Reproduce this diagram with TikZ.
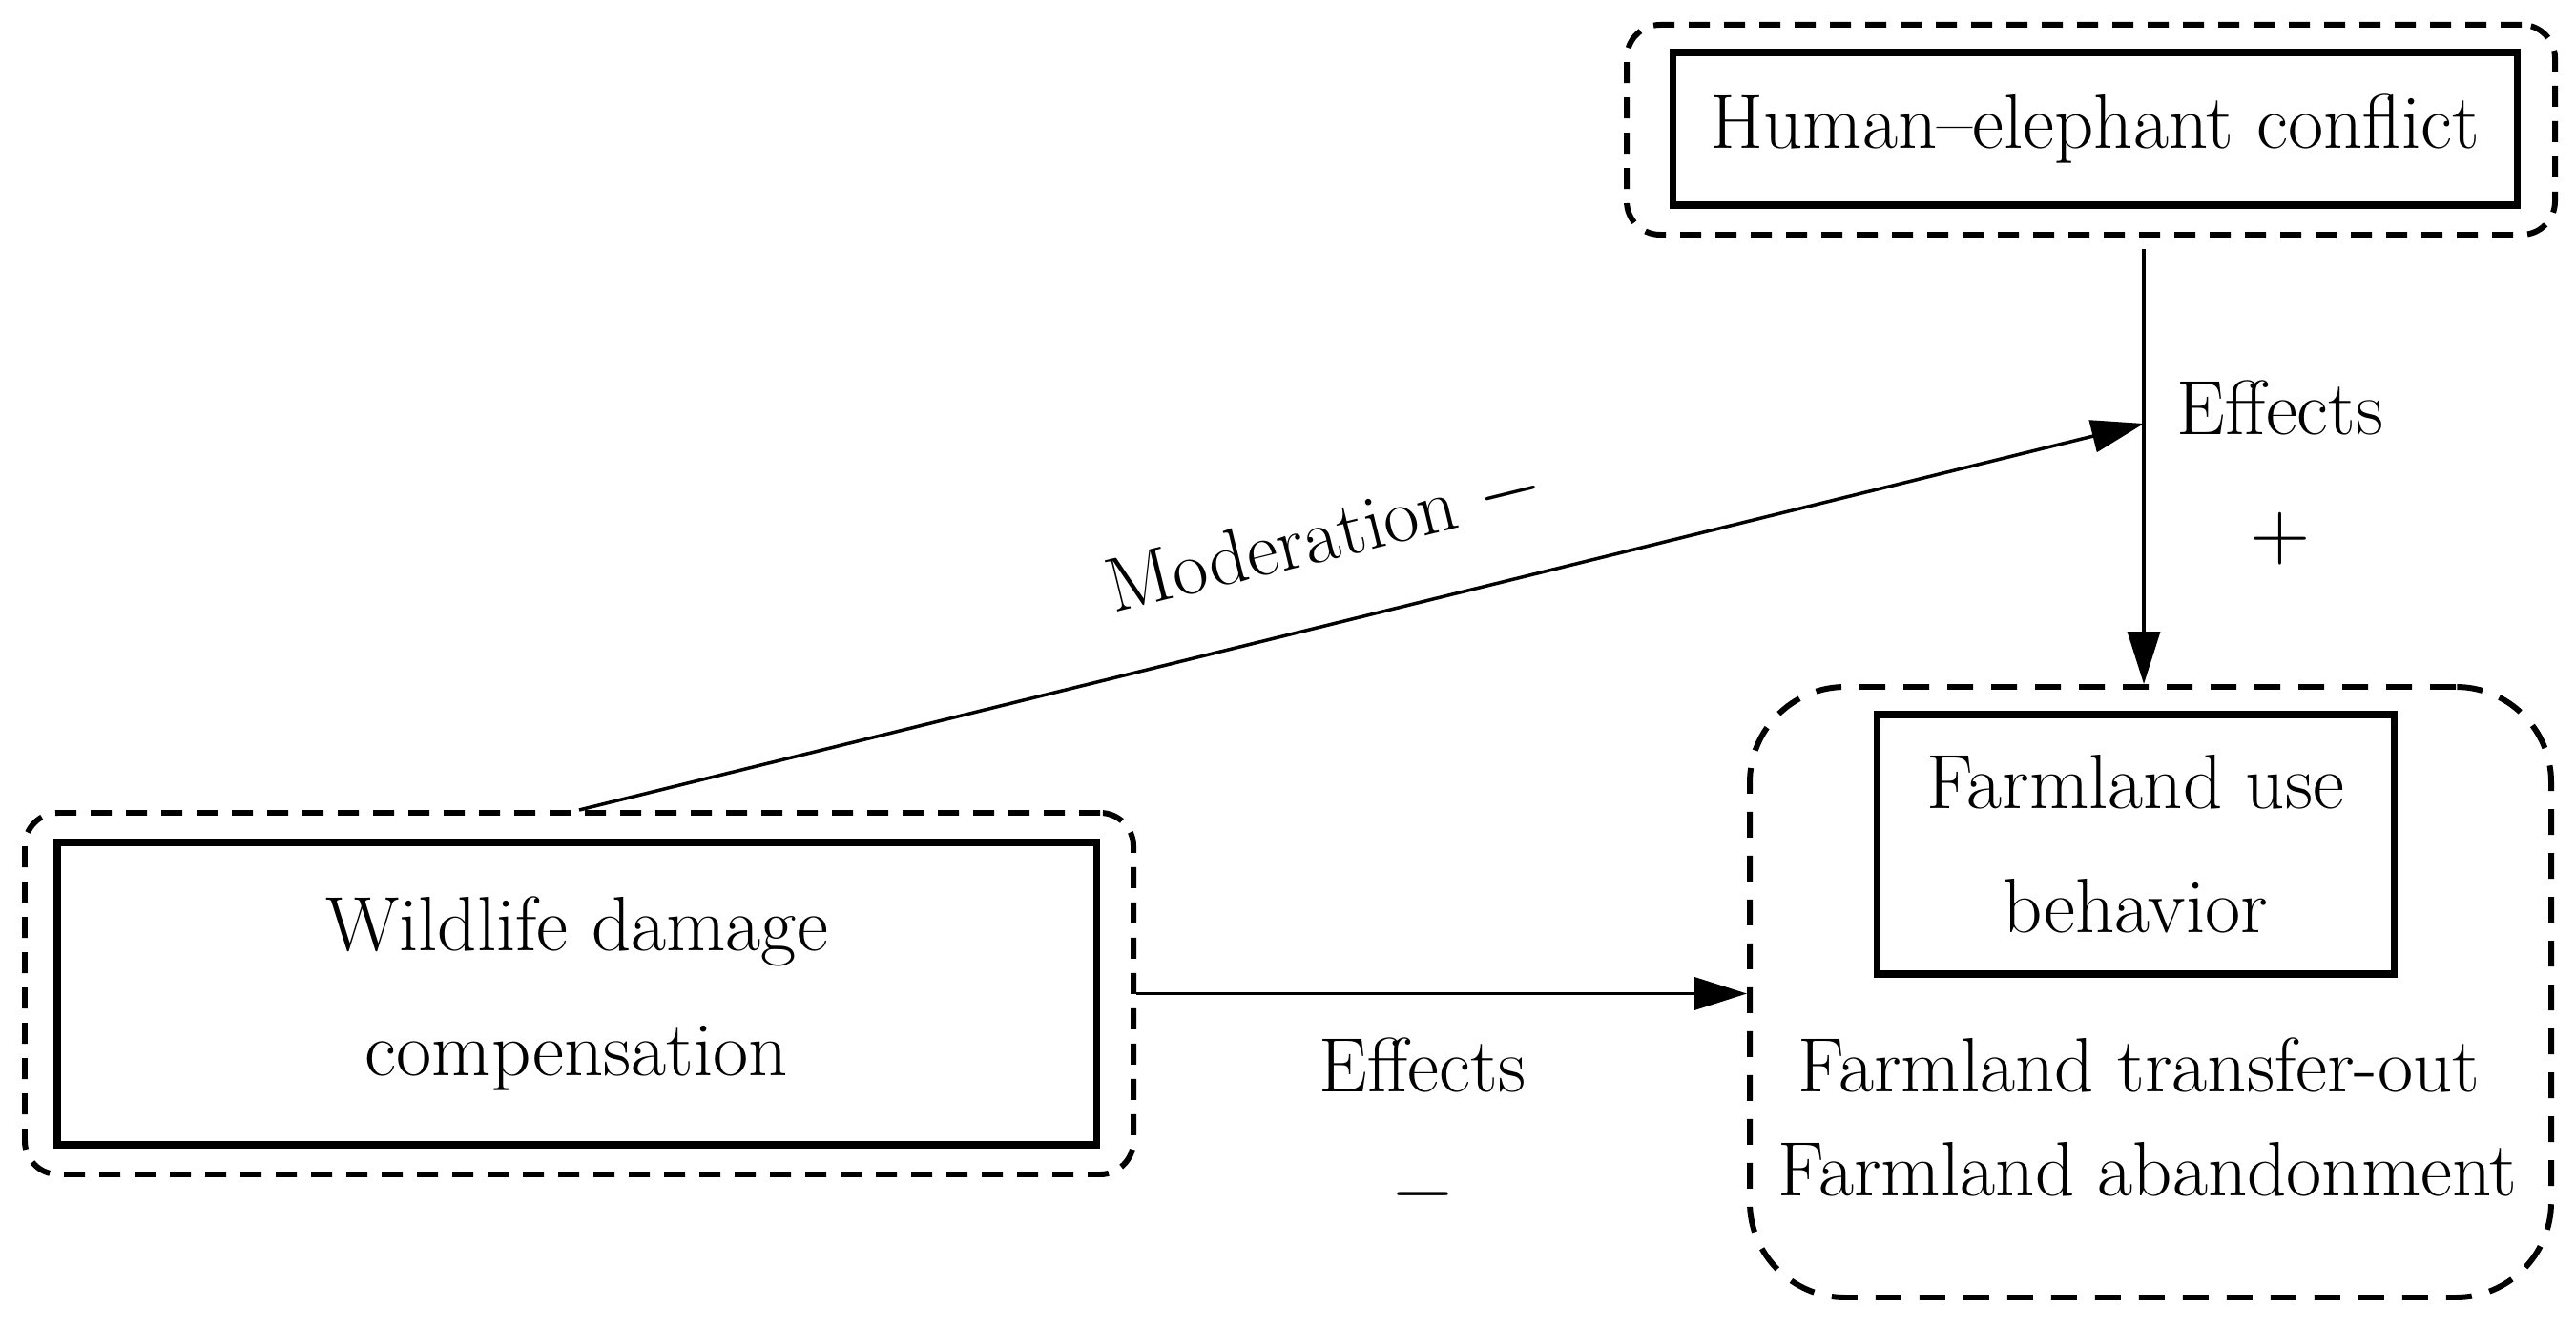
\documentclass[tikz,border=0pt]{standalone}
\usetikzlibrary{arrows.meta}

\begin{document}
\begin{tikzpicture}[every node/.style={font=\fontsize{23}{37}\selectfont},
    solidbox/.style={draw, line width=2pt, align=center, inner sep=0pt},
    dashbox/.style={draw, line width=1.7pt, dash pattern=on 0.22cm off 0.15cm, rounded corners=0.35cm, inner sep=0pt},
    link/.style={line width=1pt, -{Triangle[length=0.55cm, width=0.34cm]}}]
    \useasboundingbox (0,0) rectangle (27,13.91);
    % outer dashed frames
    \node[dashbox, minimum width=9.73cm, minimum height=2.20cm] (hecOut) at (21.915,12.55) {};
    \node[dashbox, minimum width=11.62cm, minimum height=3.79cm] (wdcOut) at (6.07,3.495) {};
    \node[dashbox, dash pattern=on 0.27cm off 0.19cm, rounded corners=1cm, minimum width=8.40cm, minimum height=6.40cm] (fubOut) at (22.54,3.51) {};
    % inner boxes
    \node[solidbox, minimum width=8.85cm, minimum height=1.60cm] (hec) at (21.955,12.56) {Human--elephant conflict};
    \node[solidbox, minimum width=10.89cm, minimum height=3.17cm] (wdc) at (6.045,3.495) {Wildlife damage\\compensation};
    \node[solidbox, minimum width=5.42cm, minimum height=2.72cm] (fub) at (22.38,5.06) {Farmland use\\behavior};
    \node (fto) at (22.42,2.75) {Farmland transfer-out};
    \node (fab) at (22.51,1.65) {Farmland abandonment};
    % arrows
    \coordinate (mod) at (22.47,9.47);
    \draw[line width=1pt] ([yshift=-0.12cm]hecOut.south -| mod) -- (mod);
    \draw[link] (mod) -- (fubOut.north -| mod);
    \draw[link] (wdcOut.north) -- (mod) node[pos=0.49, sloped, above=0.45cm] (modlab) {Moderation $-$};
    \draw[link] (wdcOut.east) -- (wdcOut.east -| fubOut.west);
    \node (eff1) at (23.90,9.64) {Effects};
    \node (plus) at (23.90,8.26) {$+$};
    \node (eff2) at (14.91,2.75) {Effects};
    \node (minus) at (14.91,1.39) {$-$};
\end{tikzpicture}
\end{document}
